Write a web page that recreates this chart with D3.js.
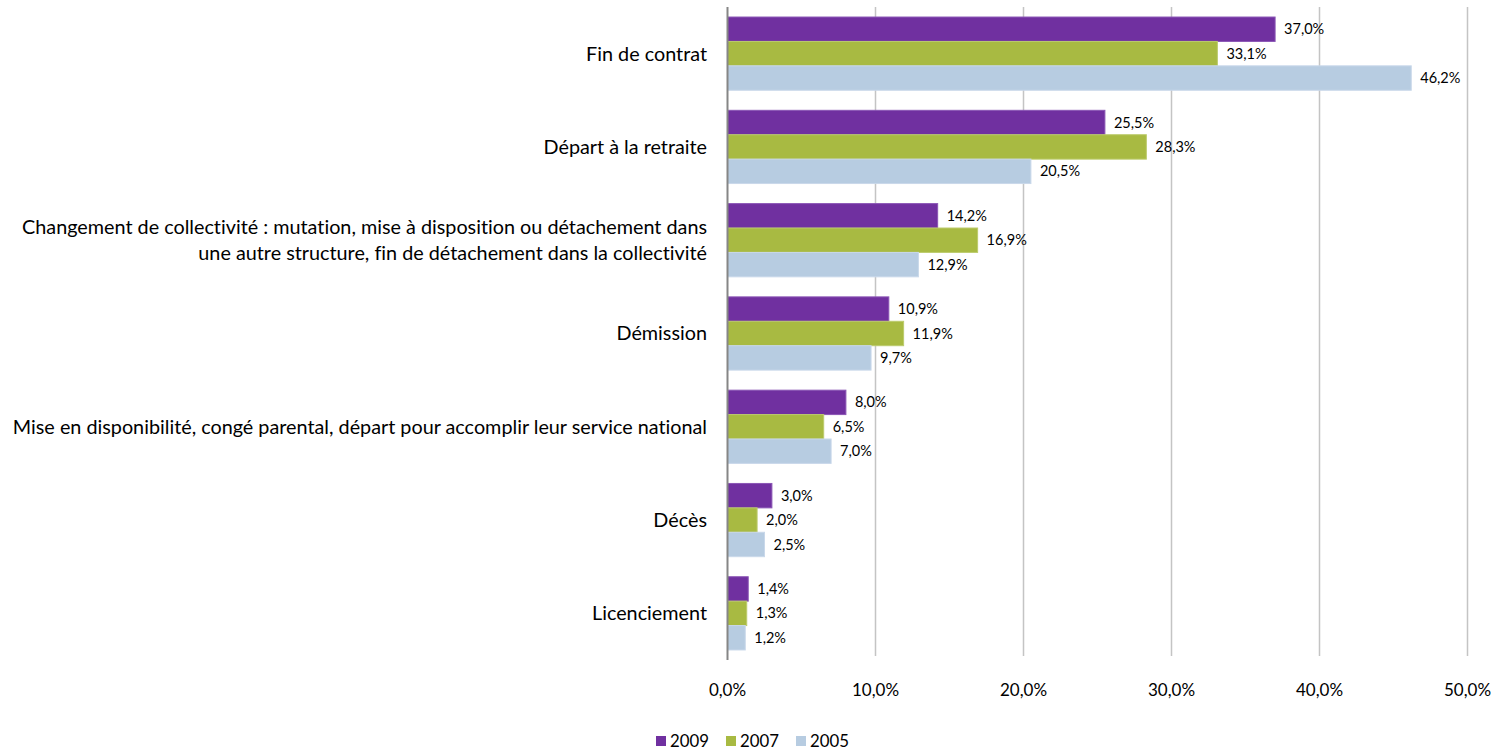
<!DOCTYPE html>
<html>
<head>
<meta charset="utf-8">
<script src="https://cdn.jsdelivr.net/npm/d3@7/dist/d3.min.js"></script>
<style>
  html, body { margin: 0; padding: 0; background: #fff; }
  svg { display: block; font-family: Lato, "Open Sans", sans-serif; font-variant-ligatures: none; }
</style>
</head>
<body>
<svg id="chart" width="1507" height="751"></svg>
<script>
// Motifs de départ, part des départs (%) par année d'enquête
const categories = [
  ["Fin de contrat"],
  ["Départ à la retraite"],
  ["Changement de collectivité : mutation, mise à disposition ou détachement dans", "une autre structure, fin de détachement dans la collectivité"],
  ["Démission"],
  ["Mise en disponibilité, congé parental, départ pour accomplir leur service national"],
  ["Décès"],
  ["Licenciement"]
];
const seriesNames = ["2009", "2007", "2005"];
const values2009 = [37.0, 25.5, 14.2, 10.9, 8.0, 3.0, 1.4];
const values2007 = [33.1, 28.3, 16.9, 11.9, 6.5, 2.0, 1.3];
const values2005 = [46.2, 20.5, 12.9, 9.7, 7.0, 2.5, 1.2];
const xTicks = [0, 10, 20, 30, 40, 50];
const colors = ["#7030A0", "#A8BA42", "#B7CCE1"];
const strokes = ["#8a55b5", "#bccb6c", "#c9d8ea"];

const series = [values2009, values2007, values2005];
const fmt = v => v.toFixed(1).replace(".", ",") + "%";

const svg = d3.select("#chart");
const plotLeft = 727.5, plotRight = 1467.5, plotTop = 7, plotBottom = 656;

const x = d3.scaleLinear().domain([0, 50]).range([plotLeft, plotRight]);
const y = d3.scaleBand().domain(d3.range(categories.length)).range([plotTop, plotBottom + 4])
  .paddingInner(0.215).paddingOuter(0.1075);
const ySub = d3.scaleBand().domain(d3.range(seriesNames.length)).range([0, y.bandwidth()]);

// vertical gridlines
svg.append("g").selectAll("line").data(xTicks.slice(1)).join("line")
  .attr("x1", d => x(d)).attr("x2", d => x(d))
  .attr("y1", plotTop).attr("y2", plotBottom)
  .attr("stroke", "#c4c4c4").attr("stroke-width", 1.5);

// bars
const groups = svg.append("g").selectAll("g").data(categories).join("g")
  .attr("transform", (d, i) => `translate(0,${y(i)})`);

series.forEach((vals, s) => {
  groups.append("rect")
    .attr("x", x(0))
    .attr("y", ySub(s))
    .attr("width", (d, i) => x(vals[i]) - x(0))
    .attr("height", ySub.bandwidth())
    .attr("fill", colors[s])
    .attr("stroke", strokes[s]).attr("stroke-width", 1);

  groups.append("text")
    .attr("x", (d, i) => x(vals[i]) + 9)
    .attr("y", ySub(s) + ySub.bandwidth() / 2)
    .attr("dy", "0.35em")
    .attr("font-size", 14.5)
    .attr("fill", "#000")
    .text((d, i) => fmt(vals[i]));
});

// value axis line
svg.append("line")
  .attr("x1", x(0)).attr("x2", x(0))
  .attr("y1", plotTop).attr("y2", plotBottom + 4)
  .attr("stroke", "#868686").attr("stroke-width", 2);

// category labels
groups.append("text")
  .attr("text-anchor", "end")
  .attr("font-size", 19.8)
  .attr("fill", "#000")
  .each(function(lines) {
    const t = d3.select(this);
    const lh = 26;
    const c = y.bandwidth() / 2;
    lines.forEach((ln, k) => {
      t.append("tspan")
        .attr("x", 707)
        .attr("y", c + (k - (lines.length - 1) / 2) * lh)
        .attr("dy", "0.35em")
        .text(ln);
    });
  });

// tick labels
svg.append("g").selectAll("text").data(xTicks).join("text")
  .attr("x", d => x(d))
  .attr("y", 690)
  .attr("dy", "0.35em")
  .attr("text-anchor", "middle")
  .attr("font-size", 17)
  .text(d => d.toFixed(1).replace(".", ",") + "%");

// legend
const legend = svg.append("g").selectAll("g").data(seriesNames).join("g")
  .attr("transform", (d, i) => `translate(${656 + i * 70},736)`);
legend.append("rect").attr("width", 10).attr("height", 10)
  .attr("fill", (d, i) => colors[i]);
legend.append("text").attr("x", 14).attr("y", 5).attr("dy", "0.38em")
  .attr("font-size", 16.8).text(d => d);
</script>
</body>
</html>
